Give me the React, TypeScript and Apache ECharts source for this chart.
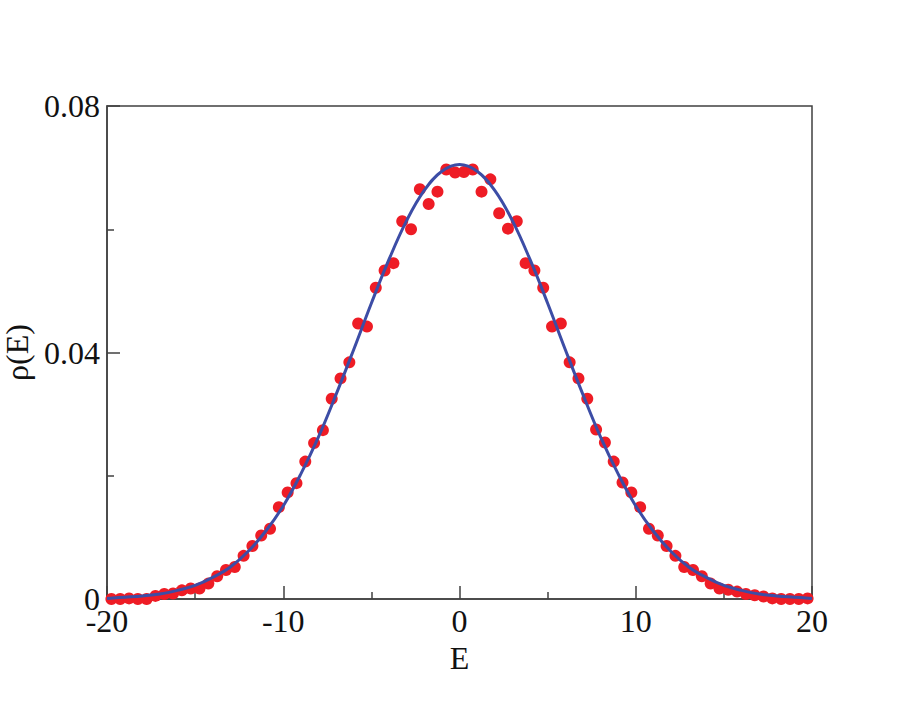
import React, { useEffect, useRef } from "react";
import * as echarts from "echarts";

// Histogram bin centres (E) and measured density values rho(E)
const binE: number[] = [
  -19.75, -19.25, -18.75, -18.25, -17.75, -17.25, -16.75, -16.25, -15.75, -15.25,
  -14.75, -14.25, -13.75, -13.25, -12.75, -12.25, -11.75, -11.25, -10.75, -10.25,
  -9.75, -9.25, -8.75, -8.25, -7.75, -7.25, -6.75, -6.25, -5.75, -5.25,
  -4.75, -4.25, -3.75, -3.25, -2.75, -2.25, -1.75, -1.25, -0.75, -0.25,
  0.25, 0.75, 1.25, 1.75, 2.25, 2.75, 3.25, 3.75, 4.25, 4.75,
  5.25, 5.75, 6.25, 6.75, 7.25, 7.75, 8.25, 8.75, 9.25, 9.75,
  10.25, 10.75, 11.25, 11.75, 12.25, 12.75, 13.25, 13.75, 14.25, 14.75,
  15.25, 15.75, 16.25, 16.75, 17.25, 17.75, 18.25, 18.75, 19.25, 19.75,
];
const rhoData: number[] = [
  0.0000, 0.0000, 0.0001, 0.0000, 0.0000, 0.0005, 0.0008, 0.0009, 0.0014, 0.0017,
  0.0017, 0.0025, 0.0037, 0.0047, 0.0052, 0.0070, 0.0086, 0.0103, 0.0114, 0.0149,
  0.0173, 0.0188, 0.0223, 0.0253, 0.0274, 0.0325, 0.0358, 0.0384, 0.0447, 0.0442,
  0.0505, 0.0533, 0.0545, 0.0613, 0.0600, 0.0665, 0.0641, 0.0661, 0.0697, 0.0692,
  0.0693, 0.0697, 0.0661, 0.0681, 0.0626, 0.0601, 0.0613, 0.0545, 0.0533, 0.0505,
  0.0442, 0.0447, 0.0384, 0.0358, 0.0325, 0.0275, 0.0254, 0.0223, 0.0189, 0.0173,
  0.0149, 0.0114, 0.0103, 0.0086, 0.0070, 0.0052, 0.0047, 0.0037, 0.0025, 0.0017,
  0.0015, 0.0012, 0.0008, 0.0006, 0.0004, 0.0001, 0.0000, 0.0000, 0.0000, 0.0001,
];

// Smooth fitted curve, read at integer E
const curveE: number[] = [
  -20, -19, -18, -17, -16, -15, -14, -13, -12, -11, -10, -9, -8, -7, -6, -5, -4, -3, -2, -1,
  0, 1, 2, 3, 4, 5, 6, 7, 8, 9, 10, 11, 12, 13, 14, 15, 16, 17, 18, 19, 20,
];
const curveRho: number[] = [
  0.0001, 0.0003, 0.0005, 0.0008, 0.0014, 0.0022, 0.0035, 0.0052, 0.0077, 0.0110,
  0.0151, 0.0203, 0.0263, 0.0332, 0.0405, 0.0480, 0.0551, 0.0614, 0.0663, 0.0694,
  0.0705,
  0.0694, 0.0663, 0.0614, 0.0551, 0.0480, 0.0405, 0.0332, 0.0263, 0.0203, 0.0151,
  0.0110, 0.0077, 0.0052, 0.0035, 0.0022, 0.0014, 0.0008, 0.0005, 0.0003, 0.0001,
];

const xTicks = { min: -20, max: 20, interval: 10 };
const yTicks = { min: 0, max: 0.08, interval: 0.04 };

const FONT = "'Liberation Serif', 'Times New Roman', serif";
const AXIS_COLOR = "#404040";

export default function App() {
  const ref = useRef<HTMLDivElement>(null);

  useEffect(() => {
    if (!ref.current) return;
    const chart = echarts.init(ref.current, undefined, { renderer: "svg" });

    const commonAxis = {
      axisLine: { show: true, onZero: false, lineStyle: { color: AXIS_COLOR, width: 1.5 } },
      axisTick: { show: true, inside: true, length: 13, lineStyle: { color: AXIS_COLOR, width: 1.5 } },
      minorTick: { show: true, splitNumber: 2, length: 7, lineStyle: { color: AXIS_COLOR, width: 1.5 } },
      splitLine: { show: false },
      minorSplitLine: { show: false },
      nameLocation: "middle" as const,
      nameTextStyle: { fontFamily: FONT, fontSize: 32, color: "#111" },
    };

    chart.setOption({
      animation: false,
      backgroundColor: "#ffffff",
      grid: {
        left: 107,
        top: 106,
        right: 103,
        bottom: 107,
        containLabel: false,
        outerBoundsMode: "none",
        show: true,
        borderColor: AXIS_COLOR,
        borderWidth: 1.5,
        backgroundColor: "transparent",
      },
      xAxis: {
        type: "value",
        ...xTicks,
        ...commonAxis,
        name: "E",
        nameGap: 36,
        axisLabel: {
          fontFamily: FONT,
          fontSize: 32,
          color: "#111",
          margin: 12,
          lineHeight: 20,
        },
      },
      yAxis: {
        type: "value",
        ...yTicks,
        ...commonAxis,
        name: "ρ(E)",
        nameGap: 74,
        nameRotate: 90,
        axisLabel: {
          fontFamily: FONT,
          fontSize: 32,
          color: "#111",
          margin: 7,
          lineHeight: 20,
          formatter: (v: number) => (v === 0 ? "0" : v.toFixed(2)),
        },
      },
      series: [
        {
          type: "scatter",
          data: binE.map((e, i) => [e, rhoData[i]]),
          symbol: "circle",
          symbolSize: 12,
          itemStyle: { color: "#EE1C25", opacity: 1 },
          z: 2,
          clip: false,
        },
        {
          type: "line",
          data: curveE.map((e, i) => [e, curveRho[i]]),
          smooth: 0.4,
          showSymbol: false,
          symbol: "none",
          lineStyle: { color: "#3C4DA6", width: 3 },
          z: 3,
        },
      ],
    });

    return () => chart.dispose();
  }, []);

  return (
    <div
      ref={ref}
      style={{ position: "fixed", left: 0, top: 0, width: 915, height: 706, background: "#fff" }}
    />
  );
}
